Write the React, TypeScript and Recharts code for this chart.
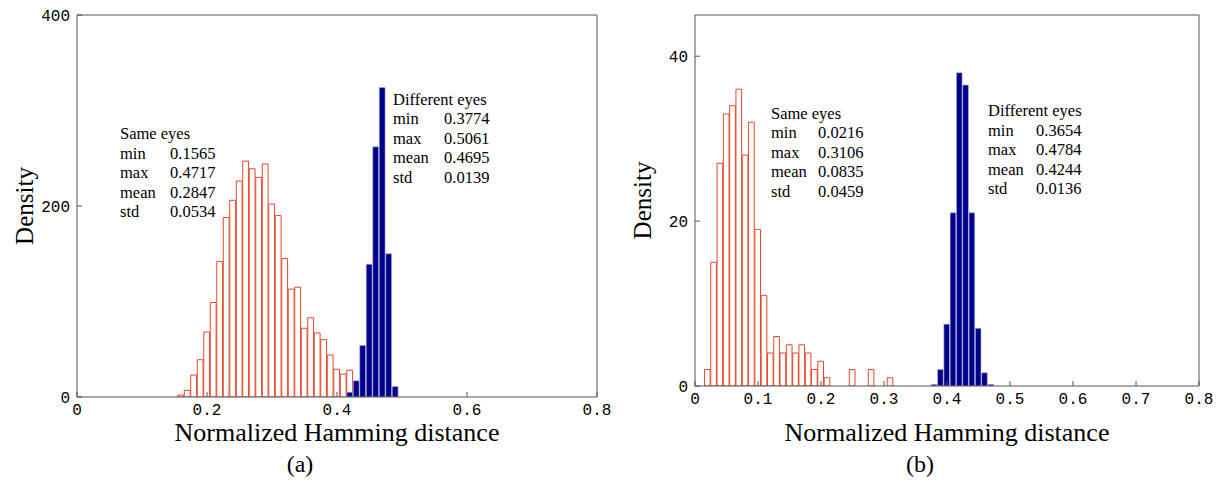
import React from 'react';
import { ComposedChart, Bar, XAxis, YAxis, Label } from 'recharts';

// (a) histogram bins (bin centres) and densities
const sameBinsA = [0.16, 0.17, 0.18, 0.19, 0.2, 0.21, 0.22, 0.23, 0.24, 0.25, 0.26, 0.27, 0.28, 0.29, 0.3, 0.31, 0.32, 0.33, 0.34, 0.35, 0.36, 0.37, 0.38, 0.39, 0.4, 0.41, 0.42];
const sameDensityA = [2, 7, 23, 39, 68, 99, 142, 188, 206, 226, 247, 239, 230, 244, 202, 190, 145, 113, 115, 72, 83, 67, 60, 44, 29, 24, 28];
const diffBinsA = [0.42, 0.43, 0.44, 0.45, 0.46, 0.47, 0.48, 0.49];
const diffDensityA = [5, 17, 54, 139, 262, 324, 150, 11];

// (b)
const sameBinsB = [0.02, 0.03, 0.04, 0.05, 0.06, 0.07, 0.08, 0.09, 0.1, 0.11, 0.12, 0.13, 0.14, 0.15, 0.16, 0.17, 0.18, 0.19, 0.2, 0.21, 0.25, 0.28, 0.31];
const sameDensityB = [2, 15, 27, 33, 34, 36, 28, 32, 19, 11, 4, 6, 4, 5, 4, 5, 4, 2, 3, 1, 2, 2, 1];
const diffBinsB = [0.38, 0.39, 0.4, 0.41, 0.42, 0.43, 0.44, 0.45, 0.46, 0.47];
const diffDensityB = [0.2, 2, 7.5, 21, 38, 36.5, 21, 7, 1.6, 0.2];

const xTicksA = [0, 0.2, 0.4, 0.6, 0.8];
const xTicksB = [0, 0.1, 0.2, 0.3, 0.4, 0.5, 0.6, 0.7, 0.8];
const yTicksA = [0, 200, 400];
const yTicksB = [0, 20, 40];

const statNames = ['min', 'max', 'mean', 'std'];
const sameStatsA = ['0.1565', '0.4717', '0.2847', '0.0534'];
const diffStatsA = ['0.3774', '0.5061', '0.4695', '0.0139'];
const sameStatsB = ['0.0216', '0.3106', '0.0835', '0.0459'];
const diffStatsB = ['0.3654', '0.4784', '0.4244', '0.0136'];

const RED = '#e4472a';
const BLUE = '#00008c';
const AXIS = '#555';
const SERIF = '"Liberation Serif", "Times New Roman", serif';

function buildTable(sx: number[], sy: number[], dx: number[], dy: number[]) {
  const rows: Record<string, { x: number; same?: number; diff?: number }> = {};
  sx.forEach((x, i) => {
    const k = x.toFixed(2);
    rows[k] = { ...(rows[k] || { x }), same: sy[i] };
  });
  dx.forEach((x, i) => {
    const k = x.toFixed(2);
    rows[k] = { ...(rows[k] || { x }), diff: dy[i] };
  });
  return Object.values(rows).sort((a, b) => a.x - b.x);
}

const tableA = buildTable(sameBinsA, sameDensityA, diffBinsA, diffDensityA);
const tableB = buildTable(sameBinsB, sameDensityB, diffBinsB, diffDensityB);

const tickStyle = { fontFamily: '"Liberation Mono", monospace', fontSize: 16, fill: '#000' };

interface PanelProps {
  table: { x: number; same?: number; diff?: number }[];
  width: number;
  margin: { top: number; right: number; bottom: number; left: number };
  xTicks: number[];
  yDomain: [number, number];
  yTicks: number[];
  barSize: number;
  xLabelOffset: number;
}

const Panel = ({ table, width, margin, xTicks, yDomain, yTicks, barSize, xLabelOffset }: PanelProps) => (
  <ComposedChart width={width} height={483} data={table} margin={margin}>
    <XAxis
      xAxisId="bottom"
      dataKey="x"
      type="number"
      domain={[0, 0.8]}
      ticks={xTicks}
      interval={0}
      height={50}
      stroke={AXIS}
      tickSize={-5}
      tickMargin={12}
      tick={tickStyle}
      allowDataOverflow
    >
      <Label
        value="Normalized Hamming distance"
        position="insideBottom"
        offset={xLabelOffset}
        fontFamily={SERIF}
        fontSize={26}
        fill="#000"
        style={{ fontFamily: SERIF, fontSize: 26 }}
      />
    </XAxis>
    <XAxis xAxisId="over" dataKey="x" type="number" domain={[0, 0.8]} allowDataOverflow hide />
    <XAxis
      xAxisId="top"
      orientation="top"
      dataKey="x"
      type="number"
      domain={[0, 0.8]}
      ticks={xTicks}
      interval={0}
      height={1}
      tick={false}
      tickSize={-5}
      stroke={AXIS}
      allowDataOverflow
    />
    <YAxis
      yAxisId="left"
      type="number"
      domain={yDomain}
      ticks={yTicks}
      interval={0}
      width={60}
      stroke={AXIS}
      tickSize={-5}
      tickMargin={12}
      tick={tickStyle}
      allowDataOverflow
    >
      <Label
        value="Density"
        angle={-90}
        position="insideLeft"
        offset={7}
        fontFamily={SERIF}
        fontSize={25}
        fill="#000"
        style={{ fontFamily: SERIF, fontSize: 25, textAnchor: 'middle' }}
      />
    </YAxis>
    <YAxis
      yAxisId="right"
      orientation="right"
      type="number"
      domain={yDomain}
      ticks={yTicks}
      interval={0}
      width={1}
      tick={false}
      tickSize={-5}
      stroke={AXIS}
      allowDataOverflow
    />
    <Bar xAxisId="bottom" yAxisId="left" dataKey="same" barSize={barSize} fill="#fff" stroke={RED} strokeWidth={1} isAnimationActive={false} />
    <Bar xAxisId="over" yAxisId="left" dataKey="diff" barSize={barSize} fill={BLUE} stroke="#b4b8dc" strokeWidth={0.6} isAnimationActive={false} />
  </ComposedChart>
);

const Stats = ({ x, valueX, y, title, values }: { x: number; valueX: number; y: number; title: string; values: string[] }) => {
  const lh = 19.5;
  return (
    <div style={{ position: 'absolute', left: x, top: y - lh / 2, fontFamily: SERIF, fontSize: 16.5, lineHeight: `${lh}px`, color: '#000', whiteSpace: 'nowrap' }}>
      <div>{title}</div>
      {statNames.map((n, i) => (
        <div key={n} style={{ position: 'relative', height: lh }}>
          <span>{n}</span>
          <span style={{ position: 'absolute', left: valueX - x }}>{values[i]}</span>
        </div>
      ))}
    </div>
  );
};

const Caption = ({ cx, text }: { cx: number; text: string }) => (
  <div style={{ position: 'absolute', left: cx - 30, width: 60, top: 449, textAlign: 'center', fontFamily: SERIF, fontSize: 24, lineHeight: '30px' }}>
    {text}
  </div>
);

export default function App() {
  return (
    <div style={{ position: 'absolute', left: 0, top: 0, width: 1222, height: 483, background: '#fff', overflow: 'hidden' }}>
      <div style={{ position: 'absolute', left: 0, top: 0 }}>
        <Panel
          table={tableA}
          width={620}
          margin={{ top: 14, right: 22, bottom: 36, left: 17 }}
          xTicks={xTicksA}
          yDomain={[0, 400]}
          yTicks={yTicksA}
          barSize={6.5}
          xLabelOffset={6}
        />
      </div>
      <div style={{ position: 'absolute', left: 620, top: 0 }}>
        <Panel
          table={tableB}
          width={602}
          margin={{ top: 14, right: 22, bottom: 47, left: 15 }}
          xTicks={xTicksB}
          yDomain={[0, 45]}
          yTicks={yTicksB}
          barSize={6.3}
          xLabelOffset={-5}
        />
      </div>
      <Stats x={120} valueX={170} y={134} title="Same eyes" values={sameStatsA} />
      <Stats x={393} valueX={444} y={99.5} title="Different eyes" values={diffStatsA} />
      <Stats x={771} valueX={818} y={113.5} title="Same eyes" values={sameStatsB} />
      <Stats x={988} valueX={1036} y={111} title="Different eyes" values={diffStatsB} />
      <Caption cx={300} text="(a)" />
      <Caption cx={920} text="(b)" />
    </div>
  );
}
